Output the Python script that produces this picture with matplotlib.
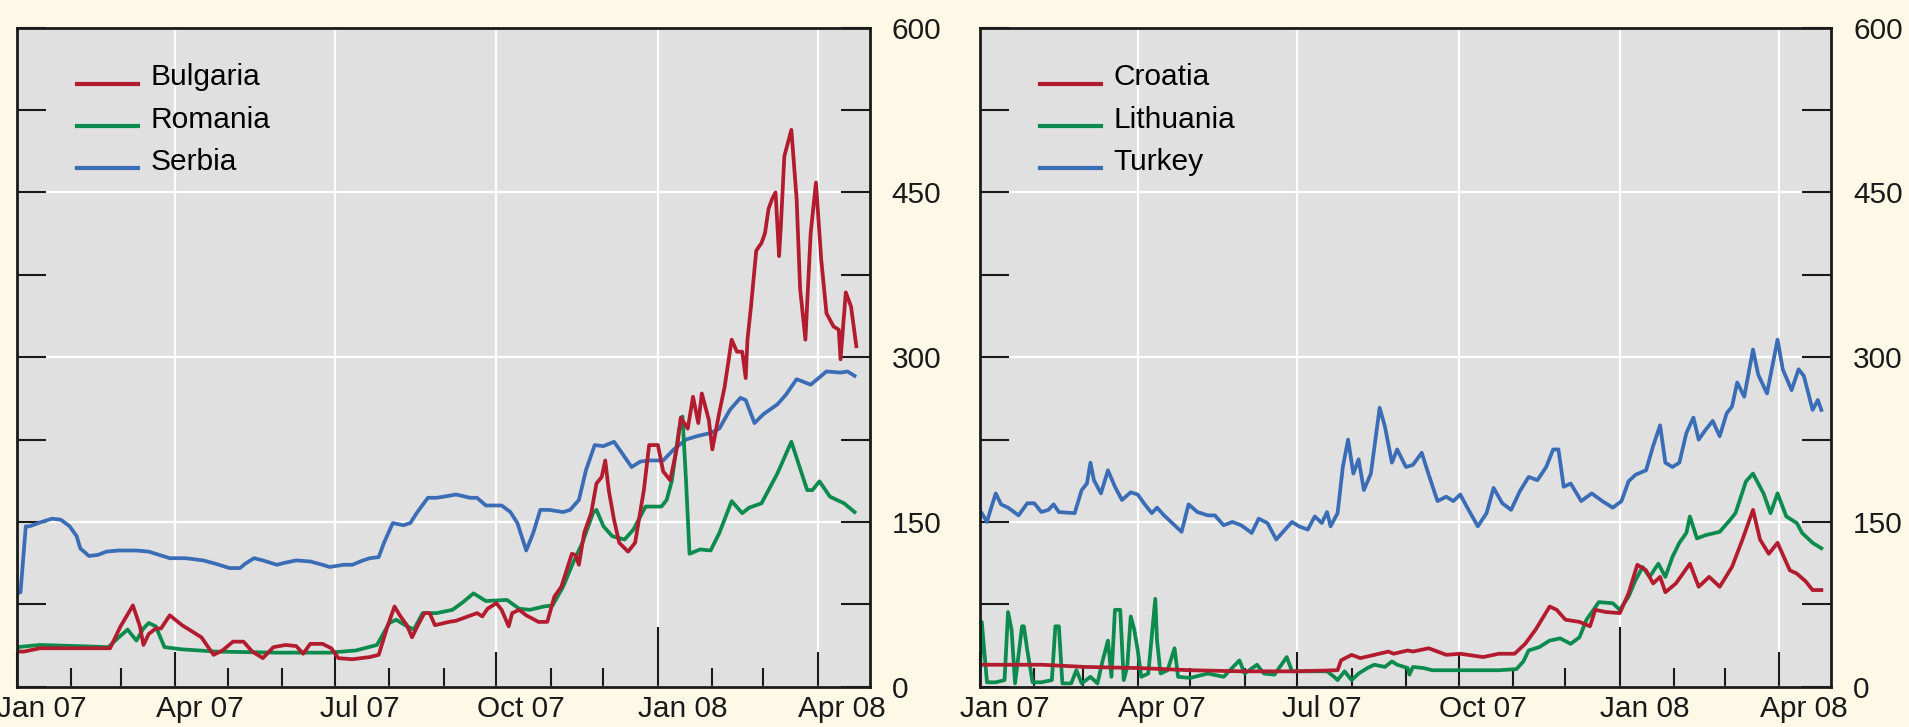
import numpy as np
import pandas as pd
import matplotlib
matplotlib.use("Agg")
import matplotlib.pyplot as plt
import matplotlib.dates as mdates
from matplotlib.ticker import FixedLocator, FuncFormatter, NullFormatter
from matplotlib.legend_handler import HandlerLine2D

plt.rcParams['font.family'] = ['Liberation Sans', 'DejaVu Sans']

# ---------------- data (day offsets from 1 Jan 2007, values) ----------------
serbia_days = [0, 2, 5, 7, 14, 20, 25, 30, 34, 36, 41, 46, 51, 58, 68, 75, 81, 87, 96, 106, 113, 121, 127, 130,
               135, 140, 148, 153, 159, 167, 174, 178, 186, 191, 197, 201, 206, 209, 214, 220, 224, 228, 234, 239,
               243, 250, 258, 262, 267, 276, 281, 285, 290, 294, 298, 303, 311, 315, 320, 324, 329, 334, 340, 344,
               350, 355, 360, 368, 374, 381, 387, 395, 400, 406, 412, 415, 420, 425, 433, 438, 444, 452, 461, 469,
               473, 477]
serbia_vals = [85, 86, 146, 146, 150, 153, 152, 146, 137, 126, 119, 120, 123, 124, 124, 123, 120, 117, 117, 115,
               112, 108, 108, 112, 117, 115, 111, 113, 115, 114, 111, 109, 111, 111, 115, 117, 118, 131, 149, 147,
               149, 159, 172, 172, 173, 175, 172, 172, 165, 165, 159, 149, 124, 140, 161, 161, 159, 161, 170, 197,
               220, 219, 223, 214, 200, 205, 206, 206, 216, 225, 228, 231, 235, 252, 263, 261, 240, 248, 257, 266,
               280, 275, 287, 286, 287, 283]

bulgaria_days = [0, 4, 13, 24, 39, 53, 59, 66, 70, 72, 75, 79, 82, 87, 94, 105, 112, 117, 123, 129, 134, 140, 146,
                 153, 159, 163, 167, 174, 179, 183, 191, 201, 206, 211, 215, 218, 222, 225, 228, 232, 235, 238, 246,
                 250, 262, 265, 268, 273, 276, 280, 282, 286, 290, 297, 302, 306, 310, 316, 318, 320, 323, 327, 330,
                 333, 335, 337, 340, 343, 348, 352, 357, 360, 365, 368, 372, 376, 378, 382, 385, 388, 390, 394, 396,
                 400, 403, 407, 410, 413, 415, 416, 418, 421, 424, 426, 428, 430, 432, 434, 435, 437, 441, 444, 446,
                 449, 452, 455, 458, 461, 465, 468, 469, 472, 475, 478]
bulgaria_vals = [32, 32, 35, 35, 35, 35, 55, 74, 55, 38, 48, 53, 53, 65, 56, 45, 29, 33, 41, 41, 32, 26, 36, 38, 37,
                 30, 39, 39, 35, 26, 25, 27, 29, 55, 73, 65, 56, 45, 55, 67, 67, 56, 59, 60, 67, 64, 71, 76, 70, 55,
                 67, 70, 65, 59, 59, 82, 91, 121, 120, 111, 140, 158, 185, 191, 206, 179, 152, 131, 123, 131, 179,
                 220, 220, 196, 188, 219, 245, 235, 264, 240, 267, 243, 216, 250, 273, 316, 305, 305, 281, 316, 346,
                 397, 404, 413, 435, 444, 450, 392, 419, 483, 507, 444, 362, 316, 413, 459, 389, 340, 328, 325, 298,
                 359, 346, 310]

romania_days = [0, 13, 34, 52, 58, 63, 68, 72, 75, 79, 84, 94, 113, 148, 178, 193, 205, 212, 216, 221, 226, 231,
                239, 248, 254, 260, 267, 279, 286, 292, 300, 305, 311, 317, 322, 328, 330, 334, 339, 346, 351, 358,
                367, 370, 373, 377, 379, 381, 383, 389, 395, 400, 407, 413, 417, 424, 433, 441, 450, 453, 457, 463,
                471, 477]
romania_vals = [36, 38, 37, 36, 45, 52, 42, 53, 58, 55, 36, 34, 32, 31, 31, 33, 38, 58, 61, 56, 52, 67, 67, 70, 77,
                85, 78, 79, 71, 70, 73, 74, 91, 114, 131, 158, 161, 146, 137, 134, 143, 164, 164, 170, 188, 234, 246,
                188, 121, 125, 124, 140, 169, 158, 163, 167, 194, 223, 179, 179, 187, 173, 167, 159]

turkey_days = [1, 4, 6, 9, 12, 16, 22, 27, 31, 35, 39, 42, 45, 54, 58, 61, 63, 65, 69, 73, 77, 81, 86, 90, 94, 98,
               101, 105, 111, 115, 119, 124, 130, 134, 139, 144, 149, 155, 159, 164, 169, 174, 178, 182, 187, 191,
               195, 198, 200, 204, 207, 210, 213, 216, 219, 223, 228, 231, 235, 238, 243, 247, 252, 256, 261, 266,
               270, 274, 277, 284, 289, 293, 298, 303, 308, 313, 318, 323, 327, 330, 333, 337, 343, 349, 355, 361,
               366, 370, 374, 380, 384, 388, 391, 395, 399, 403, 407, 410, 414, 418, 422, 426, 429, 432, 436, 441,
               444, 449, 455, 458, 463, 467, 470, 475, 478, 480]
turkey_vals = [158, 150, 161, 176, 166, 163, 156, 167, 167, 159, 161, 166, 159, 158, 179, 185, 204, 188, 176, 197,
               182, 170, 177, 175, 166, 158, 163, 156, 147, 141, 166, 159, 156, 156, 147, 150, 147, 140, 153, 149,
               134, 143, 150, 146, 143, 155, 149, 159, 146, 158, 200, 225, 194, 207, 179, 194, 254, 237, 204, 216,
               200, 202, 213, 193, 169, 173, 169, 175, 166, 146, 158, 181, 167, 161, 178, 191, 188, 200, 216, 216,
               182, 185, 169, 176, 169, 163, 169, 187, 193, 197, 219, 238, 204, 200, 204, 231, 245, 225, 234, 242,
               228, 249, 255, 277, 264, 307, 284, 267, 316, 289, 270, 289, 283, 252, 261, 252]

croatia_days = [1, 35, 60, 90, 120, 149, 179, 204, 206, 212, 217, 225, 233, 236, 244, 247, 256, 266, 274, 287, 296,
                305, 311, 317, 325, 329, 334, 342, 348, 351, 357, 365, 370, 375, 380, 384, 388, 391, 397, 405, 410,
                416, 422, 429, 435, 441, 445, 450, 455, 462, 466, 471, 475, 480]
croatia_vals = [20, 20, 18, 17, 15, 14, 14, 15, 24, 29, 26, 29, 32, 30, 33, 32, 35, 29, 30, 27, 30, 30, 39, 52, 73,
                70, 61, 59, 55, 70, 68, 67, 85, 111, 106, 94, 100, 86, 94, 112, 91, 100, 91, 109, 134, 161, 134, 121,
                131, 106, 103, 96, 88, 88]

lithuania_days = [0, 1, 4, 9, 14, 16, 18, 20, 24, 25, 27, 30, 35, 41, 43, 45, 47, 52, 55, 58, 63, 67, 70, 73, 75,
                  77, 80, 82, 84, 86, 88, 90, 92, 96, 100, 101, 103, 107, 111, 113, 120, 130, 139, 148, 151, 158,
                  162, 168, 175, 178, 187, 198, 202, 204, 208, 212, 216, 221, 225, 231, 235, 238, 244, 245, 247, 253,
                  258, 277, 296, 306, 310, 313, 319, 325, 331, 337, 342, 346, 350, 353, 361, 365, 370, 374, 378, 382,
                  387, 391, 395, 399, 403, 405, 409, 414, 422, 428, 431, 437, 441, 447, 451, 455, 460, 466, 469, 475,
                  480]
lithuania_vals = [13, 59, 4, 4, 6, 68, 52, 3, 55, 55, 33, 4, 4, 6, 55, 55, 3, 3, 15, 3, 9, 3, 24, 42, 9, 70, 70, 6,
                  18, 64, 52, 33, 9, 12, 80, 42, 12, 15, 35, 9, 8, 12, 9, 24, 12, 20, 12, 11, 27, 14, 14, 14, 9, 6,
                  14, 6, 12, 17, 20, 18, 23, 20, 17, 11, 18, 17, 15, 15, 15, 16, 23, 33, 36, 42, 44, 39, 45, 61, 70,
                  77, 76, 70, 82, 97, 109, 100, 112, 100, 118, 131, 140, 155, 135, 138, 141, 152, 158, 187, 194, 176,
                  158, 176, 155, 149, 140, 131, 126]

left_series = [("Bulgaria", bulgaria_days, bulgaria_vals),
               ("Romania", romania_days, romania_vals),
               ("Serbia", serbia_days, serbia_vals)]
right_series = [("Croatia", croatia_days, croatia_vals),
                ("Lithuania", lithuania_days, lithuania_vals),
                ("Turkey", turkey_days, turkey_vals)]

x_labels = ["Jan 07", "Apr 07", "Jul 07", "Oct 07", "Jan 08", "Apr 08"]
y_label_values = [0, 150, 300, 450, 600]

# ---------------- style ----------------
FIG_BG = "#FEF8E7"
AX_BG = "#E0E0E0"
COLORS = ["#B31B2E", "#0C8B4E", "#3A6DB6"]
INK = "#1A1A1A"
FS = 21.5

BASE = np.datetime64("2007-01-01")


def to_dates(days):
    return BASE + np.asarray(days).astype("timedelta64[D]")


class ShiftedLine(HandlerLine2D):
    def create_artists(self, legend, orig_handle, xdescent, ydescent, width, height, fontsize, trans):
        arts = super().create_artists(legend, orig_handle, xdescent, ydescent, width, height, fontsize, trans)
        for a in arts:
            a.set_ydata(np.asarray(a.get_ydata(), dtype=float) - 0.30 * fontsize)
        return arts


fig = plt.figure(figsize=(19.09, 7.27), dpi=100, facecolor=FIG_BG)
W, H = 1909.0, 727.0
ax_l = fig.add_axes([17 / W, (H - 686.7) / H, 852.5 / W, 659.0 / H])
ax_r = fig.add_axes([980 / W, (H - 686.7) / H, 851.0 / W, 659.0 / H])

month_starts = pd.date_range("2007-01-01", "2008-04-01", freq="MS")
quarter_starts = pd.date_range("2007-01-01", "2008-04-01", freq="QS")
label_pos = quarter_starts + pd.Timedelta(days=14)
x0 = mdates.date2num(pd.Timestamp("2007-01-01"))


def style(ax, series):
    ax.set_facecolor(AX_BG)
    ax.set_axisbelow(True)
    handles = {}
    # draw in reverse so the first legend entry lies on top
    for (name, d, v), c in list(zip(series, COLORS))[::-1]:
        ln, = ax.plot(to_dates(d), v, color=c, lw=2.7, label=name, solid_joinstyle="round")
        handles[name] = ln
    ax.set_xlim(x0, x0 + 485.5)
    ax.set_ylim(0, 600)

    # x ticks
    ax.xaxis.set_major_locator(FixedLocator(mdates.date2num(quarter_starts)))
    ax.xaxis.set_minor_locator(FixedLocator(mdates.date2num(month_starts)))
    ax.xaxis.set_major_formatter(NullFormatter())
    ax.xaxis.set_minor_formatter(NullFormatter())
    ax.tick_params(axis="x", which="major", direction="in", length=25, width=1.5, color=INK,
                   labelbottom=False, top=False)
    ax.tick_params(axis="x", which="minor", direction="in", length=13.7, width=1.5, color=INK, top=False)
    ax.grid(axis="x", which="major", color="white", lw=1.6)

    # y ticks
    ax.yaxis.set_major_locator(FixedLocator(y_label_values))
    ax.yaxis.set_minor_locator(FixedLocator([75, 225, 375, 525]))
    ax.yaxis.set_major_formatter(FuncFormatter(lambda v, p: f"{int(v)}"))
    ax.tick_params(axis="y", which="both", direction="in", length=21, width=1.5, color=INK,
                   left=True, right=True, labelleft=False, labelright=True, pad=16,
                   labelsize=FS, labelcolor=INK)
    ax.grid(axis="y", which="major", color="white", lw=1.6)

    for s in ax.spines.values():
        s.set_linewidth(2.0)
        s.set_color(INK)

    # longer tick for the year boundary
    for t, q in zip(ax.xaxis.get_major_ticks(), quarter_starts):
        if q.month == 1 and q.year == 2008:
            t.tick1line.set_markersize(43)

    sec = ax.secondary_xaxis("bottom")
    sec.set_xticks(mdates.date2num(label_pos), labels=x_labels)
    sec.tick_params(length=0, pad=6, labelsize=FS, labelcolor=INK)
    sec.spines["bottom"].set_visible(False)

    order = [s[0] for s in series]
    ax.legend([handles[n] for n in order], order, loc="upper left",
              bbox_to_anchor=(0.070, 0.946), borderaxespad=0, borderpad=0,
              frameon=False, fontsize=FS, handlelength=2.07, handletextpad=0.4,
              labelspacing=0.48, handler_map={matplotlib.lines.Line2D: ShiftedLine()})
    for lh in ax.get_legend().get_lines():
        lh.set_linewidth(3.0)


style(ax_l, left_series)
style(ax_r, right_series)

fig.savefig("out.png", dpi=100, facecolor=FIG_BG)
